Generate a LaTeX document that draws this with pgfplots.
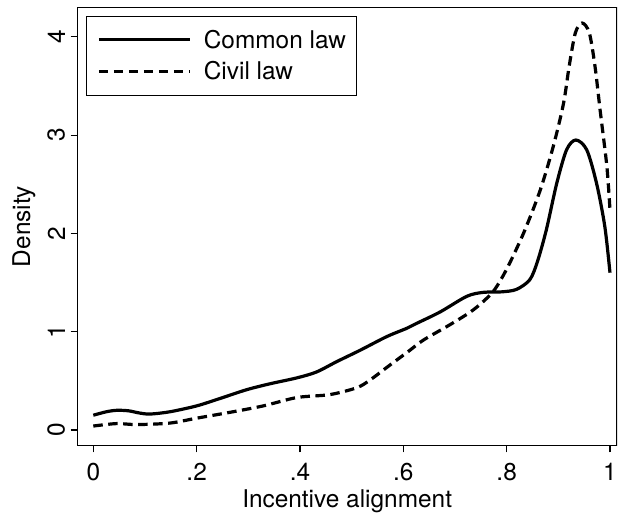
\documentclass[border=0pt]{standalone}
\usepackage{pgfplots}
\pgfplotsset{compat=1.18}
\usepackage{fontspec}
\setmainfont{TeX Gyre Heros}

% Kernel density estimates of incentive alignment by legal origin
\pgfplotstableread{
x      y
0.000  0.150
0.025  0.185
0.045  0.200
0.068  0.195
0.090  0.172
0.110  0.162
0.148  0.185
0.200  0.245
0.245  0.320
0.297  0.410
0.342  0.470
0.394  0.530
0.432  0.590
0.471  0.695
0.516  0.810
0.568  0.950
0.607  1.035
0.626  1.085
0.671  1.200
0.723  1.360
0.755  1.400
0.790  1.405
0.819  1.430
0.845  1.530
0.860  1.720
0.877  2.040
0.897  2.510
0.916  2.850
0.934  2.950
0.955  2.850
0.974  2.510
0.990  2.070
1.000  1.600
}\commonlaw

\pgfplotstableread{
x      y
0.000  0.040
0.045  0.065
0.084  0.055
0.148  0.070
0.200  0.120
0.265  0.180
0.329  0.245
0.394  0.330
0.458  0.360
0.510  0.430
0.536  0.510
0.574  0.660
0.610  0.800
0.639  0.915
0.690  1.070
0.735  1.220
0.771  1.390
0.790  1.540
0.808  1.720
0.835  2.030
0.865  2.440
0.890  2.880
0.910  3.320
0.921  3.700
0.933  4.040
0.946  4.140
0.960  4.040
0.971  3.700
0.981  3.250
0.994  2.680
1.000  2.240
}\civillaw

\begin{document}
\begin{tikzpicture}
\useasboundingbox (-77.3bp,-71.3bp) rectangle (540.7bp,445.7bp);
\begin{axis}[
  at={(0,0)}, anchor=south west,
  scale only axis,
  width=539.7bp, height=438.4bp,
  xmin=-0.031, xmax=1.0136,
  ymin=-0.16, ymax=4.30,
  axis line style={line width=1.3bp},
  axis x line*=bottom, axis y line*=left,
  tick align=outside,
  major tick length=6.7bp,
  every tick/.style={black, line width=1.1bp},
  xtick={0,0.2,0.4,0.6,0.8,1},
  xticklabels={0,.2,.4,.6,.8,1},
  ytick={0,1,2,3,4},
  /pgf/number format/assume math mode=true,
  tick label style={font=\fontsize{24.5}{28}\selectfont},
  xticklabel style={yshift=-7bp},
  yticklabel style={rotate=90, anchor=south, yshift=2bp},
  xlabel={Incentive alignment},
  ylabel={Density},
  label style={font=\fontsize{24.5}{28}\selectfont},
  xlabel style={yshift=-2bp},
  ylabel style={yshift=5bp},
  legend style={
    at={(0.0161,0.9808)}, anchor=north west,
    draw=black, line width=1.1bp,
    font=\fontsize{24.5}{28}\selectfont,
    inner xsep=10.7bp, inner ysep=7.7bp,
    row sep=0pt, column sep=0pt,
    nodes={inner sep=0pt},
  },
  legend cell align=left,
  legend image code/.code={%
    \path[draw=none] (0bp,-15.85bp) rectangle (105bp,15.85bp);
    \draw[#1, line width=3.2bp] (0bp,0bp) -- (91.6bp,0bp);},
]
\path[draw=black, line width=1.3bp] (rel axis cs:0,1) -- (rel axis cs:1,1) -- (rel axis cs:1,0);
\addplot[black, line width=3.2bp, smooth, tension=0.5] table {\commonlaw};
\addlegendentry{Common law\hspace{5.6bp}}
\addplot[black, line width=3.2bp, smooth, tension=0.5, dash pattern=on 9.5bp off 5.5bp] table {\civillaw};
\addlegendentry{Civil law}
\end{axis}
\end{tikzpicture}
\end{document}
